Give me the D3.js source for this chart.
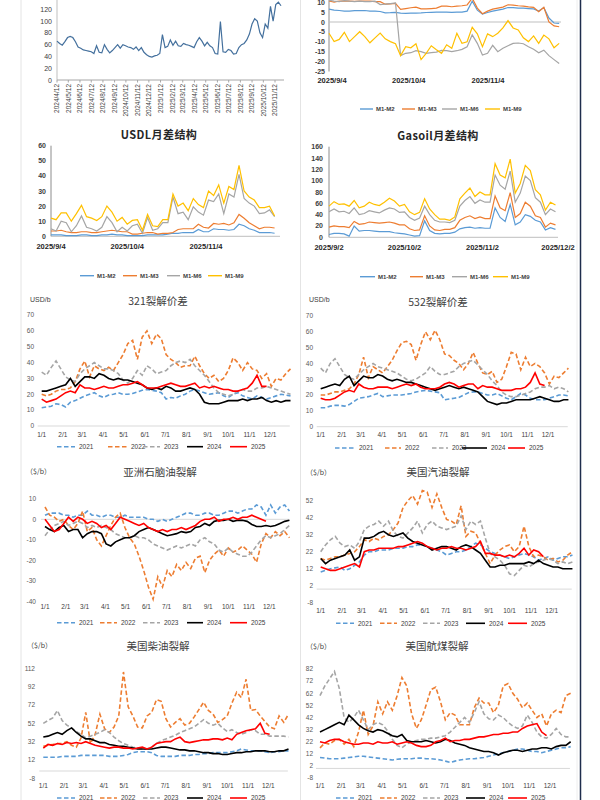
<!DOCTYPE html>
<meta charset="utf-8">
<html>
<head>
<style>
  body { margin: 0; background: #fff; }
  svg text { font-family: "Liberation Sans", Arial, sans-serif; }
</style>
</head>
<body>
<div id="chartContainer"></div>
<script src="https://d3js.org/d3.v7.min.js"></script>
<script>
// ---- tick labels / categories ----
var topLeftLabels = ["2024/4/12","2024/5/12","2024/6/12","2024/7/12","2024/8/12","2024/9/12","2024/10/12","2024/11/12","2024/12/12","2025/1/12",
  "2025/2/12","2025/3/12","2025/4/12","2025/5/12","2025/6/12","2025/7/12","2025/8/12","2025/9/12","2025/10/12","2025/11/12"];
var monthLabels = ["1/1","2/1","3/1","4/1","5/1","6/1","7/1","8/1","9/1","10/1","11/1","12/1"];
var monthDays = [0,31,59,90,120,151,181,212,243,273,304,334];
var yearNames = ["2021","2022","2023","2024","2025"];
var spreadNames = ["M1-M2","M1-M3","M1-M6","M1-M9"];

// ---- top-left panel (weekly from 2024/4/12) ----
var topLeftVals = [66,62,59,65,72,74,72,65,56,54, 51,50,49,48,45,58,47,46,60,52,
  46,50,55,60,54,60,58,56,55,52, 56,50,55,47,43,40,39,41,42,45,
  77,55,57,68,59,66,58,57,62,60, 59,57,55,65,72,66,58,64,58,55,
  45,44,99,48,47,52,50,44,45,55, 60,62,68,78,95,104,100,80,72,95,
  88,125,100,128,132,126];

// ---- top-right spreads (every 2 days from 2025/9/4) ----
var topM1M2 = [6.5,6,5.8,5.5,5.5,5.7,5.7,5.8,5.5,5.5, 5.3,4.6,4.7,4.9,4.5,4.4,4.5,4.5,4.6,4.8,
  4.9,5,5,5,4.9,5,5,5.5,10.5,6, 4,4.8,5.5,6,6.5,7.3,7.3,7,7,6.8, 6.6,5.5,7.3,2,-0.5,-0.7];
var topM1M3 = [10.6,10,10.6,10.5,10.6,10.4,10.6,10.5,10.5,10.3, 10.3,9,9.2,9.4,6.4,6.8,7.2,7.5,6.6,6.6,
  6.8,7,8,8,7.7,8,8.2,8.6,12,7, 4.2,5.5,6.5,7,7.5,8.7,8.5,8.2,8,7.6, 7.4,5.2,7.4,0,-2,-2.4];
var topM1M6 = [11,10.5,10.3,10.8,10.5,10.3,10.5,10.3,10.3,10.5, 8.8,9,9.3,9.6,-17,-15.8,-15.5,-14.5,-15,-15.8,
  -15.5,-15.2,-14.3,-14.5,-15,-14.5,-13.8,-12.5,-6.5,-10.8, -16.7,-15.8,-11.8,-15,-13.3,-12,-10.8,-10.6,-11,-12.5,
  -13.8,-15.5,-14.2,-17,-19,-21];
var topM1M9 = [-5.7,-9.9,-8.8,-5.2,-9.9,-7.4,-4.9,-7.4,-10.5,-8, -5.6,-8.5,-9.9,-11,-17,-12.5,-13,-11,-19,-15.8,
  -12,-14,-15.8,-11.5,-13.3,-5.7,-10.8,-10,-2.7,-6, -12.5,-6,-7.4,-5.7,-3,0.7,-3,-4,-8,-9.9,
  -7,-10.8,-6.6,-8.5,-13,-10.8];

// ---- USDL (every 2 days from 2025/9/4) ----
var usdlM1M2 = [1,1,1,0.5,0.5,0.5,1,1,0.5,0.5, 1,1,1.5,1,1,0.5,0.5,0.5,0.5,1,
  1,1,1,1.5,2,2,2.5,2.5,2.5,4.5, 3,3,5,4.5,4.5,4,4.5,8,7,5, 4,2.5,2.5,2.5,2];
var usdlM1M3 = [3.5,3.5,4,3,2.5,2.5,3,3,2.5,2.5, 3,3.5,4,3.5,3,3,1.5,1.5,2,2.5,
  2.5,1.5,2,2,2.5,4.5,5,5,5,8, 6,5.5,8.5,8,8.5,7.5,9,14.5,12,9, 7,5,6,6,5.5];
var usdlM1M6 = [5,3.5,10,9,3,7,13.5,6,5,3.5, 6,13,9,3,6,3.5,7,8,2,12.5,
  4,5,9,9,26,15,16,11,19.5,16, 14,24,23,28,15,28,26,41,25,22, 20,15,15.5,17.5,13];
var usdlM1M9 = [12,11,15.5,15.5,10,15,20.5,13,12,10.5, 13,20,16,10,12.5,8,10.5,11,4,14.5,
  7,6.5,11,11,28,20,22,17,25,21, 19,30,27,34,22,33,31,47,30,26, 24,19,19,20,13.5];

// ---- Gasoil (every 2 days from 2025/9/2) ----
var gasoM1M2 = [5,7,7,6,2,20,11,12,12,11, 10,10,10,8,7,6,4,2,3,29,
  12,7,6,7,7,9,15,17,18,16, 17,16,16,52,35,28,58,22,27,40, 37,30,27,13,17,14];
var gasoM1M3 = [18,20,19,19,17,28,23,24,27,26, 25,26,27,25,22,22,15,12,13,38,
  20,13,12,14,14,17,30,35,38,33, 36,33,33,73,52,47,79,35,42,62, 55,38,35,18,25,22];
var gasoM1M6 = [45,50,45,46,42,52,40,42,47,45, 43,48,52,50,44,45,35,30,34,55,
  40,30,27,27,26,30,55,65,72,60, 66,62,62,110,92,85,117,62,78,108, 100,70,62,40,50,45];
var gasoM1M9 = [55,63,58,59,55,65,52,55,62,58, 56,62,69,64,55,58,45,40,44,68,
  50,40,32,32,30,36,68,78,87,72, 80,75,75,130,110,105,138,78,95,127, 118,84,75,48,62,57];

// ---- yearly cracks, weekly from 1/1 ----
var c321_2021 = [11.5,12,12.5,14,13.5,12,15,16,17.5,19, 20,21,19,18,19.5,20,21,20,20,20.5,
  21.5,22.5,23,22.5,22,21,17,18,17.5,19, 20,22,23,22,21,20,20.5,21,19,18, 20,21,19,18,17,19,18,17,18,19, 20,19.5,19];
var c321_2022 = [20,19,20,22,23,23,24,28,36,41, 31,38,36,35,37,35,40,45,52,54,
  42,56,60,52,58,55,45,42,40,37, 38,38,44,38,33,30,32,28,30,35, 43,40,35,40,36,35,30,33,25,30, 29,33,36];
var c321_2023 = [34,32,37,41,36,31,29,28,33,36, 38,40,38,36,36,35,33,29,27,30,
  35,32,38,36,33,34,35,38,40,41, 40,42,38,35,32,28,24,21,20,19, 20,22,23,22,22,24,24,25,24,23, 22,21,20];
var c321_2024 = [22,22,23,24,25,26,30,25,28,31, 31,30,33,32,30,29,30,29,29,28,
  27,26,24,23,24,23,25,24,22,22, 23,24,23,20,15,14,14,14,15,16, 16,16,17,16,17,17,18,16,15,16, 15,16,16];
var c321_2025 = [17,15,16,17,19,21,22,21,26,24, 24,23,24,25,24,24,25,26,26,27,
  28,26,24,24,24,25,26,27,26,25, 25,26,27,24,25,24,25,24,23,23, 22,22,23,24,27,32,25,25];

var c532_2021 = [12,12,13,13.5,13.5,13,14,16,18,18.5, 19,20,21,19,19.5,20,20,20,20.5,21,
  22,22.5,23,22.5,22,21.5,17,17.5,18,18.5, 20,21.5,22,22,21,20,20,21,19.5,18, 17,19,21,20,18,17,17,17,18,19, 20,20,19.5];
var c532_2022 = [20,20,21,22,22,23,24,27,33,44, 31,38,36,34,38,42,48,53,54,52,
  42,52,60,55,61,55,46,45,42,40, 36,40,47,40,34,33,35,28,30,38, 47,46,36,44,38,40,38,34,27,32, 31,34,37];
var c532_2023 = [37,34,40,43,38,33,31,30,33,36, 38,40,38,37,36,35,34,32,30,29,
  30,32,34,38,35,33,33,34,35,38, 40,41,42,39,36,33,29,26,22,20, 19,19,20,21,22,24,25,25,26,24, 25,24,22];
var c532_2024 = [24,25,26,27,26,30,32,26,29,32, 31,31,33,32,30,29,30,29,28,28,
  27,26,25,24,23,24,25,26,25,24, 25,24,23,22,19,16,15,14,15,15, 16,17,17,17,17,18,19,18,17,16, 16,17,17];
var c532_2025 = [18,17,17,18,20,22,23,22,27,25, 24,24,25,25,25,24,25,26,27,26,
  27,25,24,24,24,25,27,28,27,25, 26,27,27,24,26,25,25,24,23,23, 23,24,24,25,28,34,27,26];

var nap_2021 = [2,3,3,3,2,2,1,2,2,4, 2,2,1,2,2,1,1,2,1,1,
  1,1,0,0,-1,0,-1,0,1,2, 3,3,2,2,3,3,2,2,3,4, 4,3,4,5,5,7,6,2,7,3, 6,7,4];
var nap_2022 = [6,2,1,-1,0,-3,-5,-2,4,-6, -4,-10,-13,-8,-3,1,3,-4,-9,-12,
  -18,-25,-33,-39,-28,-33,-25,-28,-22,-25, -21,-24,-19,-18,-26,-20,-17,-15,-18,-14,
  -16,-15,-13,-15,-17,-21,-12,-7,-9,-6, -8,-6,-9];
var nap_2023 = [-8,-5,-3,-2,-1,-3,-2,-1,-2,-4, -3,-4,-3,-4,-5,-7,-8,-9,-9,-8,
  -9,-9,-10,-12,-13,-14,-15,-14,-13,-14, -13,-12,-13,-10,-9,-11,-12,-15,-16,-14,
  -16,-17,-18,-18,-16,-13,-10,-8,-9,-8, -7,-5,-3];
var nap_2024 = [-3.5,-5,-6,-4,-3,-6,-5,-5,-9,-7, -6,-6,-7,-12,-13,-11,-10,-9,-9,-8,
  -6,-5,-4,-5,-6,-7,-8,-7.5,-7,-6, -6.5,-6,-4,-3.5,-2,-3,-1,-0.5,-0.5,0,
  -1,-0.5,-0.5,-1,-2.5,-3.5,-3.5,-3,-3.5,-3, -2,-1,-0.5];
var nap_2025 = [0,-3,-6,-5,-2,1,-1,1,0,-2, -1,-2,-4,-3,-5,-2,1,0,-1,-2,
  -3,-2,-4,-5,-6,-5,-6,-5,-5,-4, -5,-4,-3,-1,0,0,1,-1,0,0, 1,0,1,1,2,1,0,-1];

var gsl_2021 = [10,11,12,12.5,13,11,12,14,16,20, 22,22,23,23,23,24,24,24,25,25,
  26,26,25,24,23,22,20,21,22,22, 23,25,27,26,24,22,21,20,19,18, 19,20,21,20,19,17,18,19,17,18, 19,19,20];
var gsl_2022 = [18,17,18,19,19,20,21,22,25,29, 28,30,29,31,32,35,39,48,52,55,
  50,58,57,48,56,48,41,40,38,49, 31,34,33,27,21,15,20,23,25,26, 22,25,37,25,19,20,19,17,18,16, 17,20,22];
var gsl_2023 = [22,26,29,31,27,25,26,24,28,35, 37,38,40,37,40,34,31,30,33,36,
  40,33,38,40,37,36,35,36,37,43, 35,40,38,40,30,21,19,17,14,9, 8,11,14,13,15,16,17,18,17,15, 16,15,16];
var gsl_2024 = [18,15,17,18,19,20,23,17,19,30, 30,31,33,34,32,31,32,33,30,28,
  27,26,25,23,24,25,25,24,23,25, 26,25,23,21,17,13,13,14,14,15, 15,15,15,16,15,17,15,14,13,13, 12,12,12];
var gsl_2025 = [13,12,11,11,12,13,14,15,13,22, 23,23,24,24,24,24,25,25,26,27,
  28,27,25,24,23,24,24,25,24,24, 23,24,25,28,21,21,20,20,19,20, 19,21,24,20,23,22,19];

var dsl_2021 = [15,15,15,15,16,16,16,16,17,17, 17,17,17,17,16,16,16,17,18,20,
  21,21,21,20,17,16,16,16,16,17, 17,17,18,18,19,19,20,20,20,20, 21,22,24,23,22,22,22,21,20,21, 21,22,22];
var dsl_2022 = [27,28,29,30,30,32,28,26,36,64, 30,40,62,46,42,48,60,108,70,60,
  48,47,60,64,78,76,57,48,53,57, 50,52,59,67,75,66,62,53,56,60, 74,86,80,100,66,67,60,54,48,46, 60,53,62];
var dsl_2023 = [52,55,58,66,55,50,47,43,40,36, 38,40,42,45,42,37,33,30,28,26,
  25,24,24,26,30,33,35,37,39,42, 44,46,48,52,56,52,50,52,47,43, 45,42,40,42,45,44,40,40,38,38, 38,38,37];
var dsl_2024 = [37,38,40,42,40,44,47,42,38,35, 35,33,31,31,29,28,27,27,26,25,
  24,24,24,24,25,26,26,25,24,23, 23,22,22,21,20,20,19,19,18,18, 19,20,20,21,21,22,22,22,21,21, 22,22,24];
var dsl_2025 = [25,29,28,30,29,31,30,31,30,32, 30,28,27,26,25,26,26,25,25,24,
  25,26,24,26,30,31,32,32,35,37, 32,31,32,33,34,34,35,35,34,36, 34,40,42,44,45,46,52,41,40];

var jet_2021 = [9,8.5,8,8,8,8.5,9,9.5,10,10, 9.5,9,8.5,8,7.5,7,7.5,8,8,8,
  8.5,8.5,8,8,7.5,7,6,5,6,7, 7.5,8,8,8.5,9,10,11,12,13,14, 15,16,16,15,14,14,13,14,15,16, 17,17,18];
var jet_2022 = [17,21,20,23,24,20,24,18,30,48, 28,35,55,45,55,48,60,75,68,45,
  33,40,52,65,67,55,40,46,44,36, 36,36,50,58,54,54,46,52,68,70, 62,57,50,54,48,42,45,35,45,48, 46,60,62];
var jet_2023 = [60,68,74,80,66,42,38,42,48,40, 32,36,38,36,31,24,19,17,20,22,
  23,24,24,25,25,26,27,30,34,38, 42,38,46,55,45,41,40,44,42,38, 35,33,35,44,38,30,26,25,28,33, 28,26,26];
var jet_2024 = [30,32,34,36,38,36,44,40,36,33, 31,30,32,31,29,27,26,28,23,22,
  22,22,23,22,21,22,24,23,21,20, 19,17,16,15,14,14,13,11,13,14, 15,15,14,15,16,16,17,17,16,18, 19,19,22];
var jet_2025 = [22,21,23,24,24,22,21,20,20,21, 21,20,22,21,21,22,20,21,22,21,
  19,18,18,19,22,23,25,22,23,23, 24,24,25,26,26,27,28,28,29,29, 30,30,33,35,36,37,30,27];

// ---- styles ----
var yearColors = ["#5B9BD5","#ED7D31","#A5A5A5","#000000","#FF0000"];
var yearDash = ["4.5,2.5","4.5,2.5","4.5,2.5",null,null];
var spreadColors = ["#5B9BD5","#ED7D31","#A5A5A5","#FFC000"];
var cjk = "'Noto Sans CJK SC', sans-serif";

var svg = d3.select("#chartContainer").append("svg").attr("width", 600).attr("height", 800);
svg.append("rect").attr("width", 600).attr("height", 800).attr("fill", "#fff");

// page frame lines
[[21, "#e4e4e4", 1], [300.5, "#e4e4e4", 1], [577, "#eeeeee", 1], [580.5, "#1f2d4d", 1.5]].forEach(function (f) {
  svg.append("line").attr("x1", f[0]).attr("x2", f[0]).attr("y1", 0).attr("y2", 800)
    .attr("stroke", f[1]).attr("stroke-width", f[2]);
});

// ---- top-left panel (top cropped, as in the source) ----
(function () {
  var g = svg.append("g");
  var start = new Date(2024, 3, 12);
  var x = d3.scaleTime().domain([start, new Date(2025, 10, 12)]).range([57, 275]);
  var y = d3.scaleLinear().domain([0, 140]).range([80, -2.5]);
  g.append("line").attr("x1", 57).attr("x2", 57).attr("y1", y(140)).attr("y2", y(0)).attr("stroke", "#bfbfbf");
  g.append("line").attr("x1", 57).attr("x2", 284).attr("y1", y(0)).attr("y2", y(0)).attr("stroke", "#a6a6a6");
  g.selectAll(null).data(d3.range(0, 121, 20)).join("text")
    .attr("x", 52).attr("y", function (d) { return y(d) + 2.5; })
    .attr("text-anchor", "end").style("font-size", "7px").attr("fill", "#404040").text(function (d) { return d; });
  topLeftLabels.forEach(function (t, i) {
    var px = x(d3.timeMonth.offset(start, i));
    g.append("line").attr("x1", px).attr("x2", px).attr("y1", 80).attr("y2", 82.5).attr("stroke", "#a6a6a6");
    g.append("text").attr("transform", "translate(" + (px + 2.3) + ",84) rotate(-90)")
      .attr("text-anchor", "end").style("font-size", "6.5px").attr("fill", "#404040").text(t);
  });
  var line = d3.line().x(function (d, i) { return x(d3.timeDay.offset(start, 7 * i)); }).y(function (d) { return y(d); });
  g.append("path").attr("d", line(topLeftVals)).attr("fill", "none").attr("stroke", "#44709D").attr("stroke-width", 1.2);
})();

// ---- spread panels ----
function spreadPanel(o) {
  var g = svg.append("g");
  var x = d3.scaleLinear().domain([0, o.dRef]).range([o.x0, o.xRef]);
  var y = d3.scaleLinear().domain([o.vA, o.vB]).range([o.pA, o.pB]);
  if (o.title) {
    g.append("text").attr("x", o.tx).attr("y", o.ty).attr("text-anchor", "middle")
      .style("font-family", cjk).style("font-size", "11px").style("font-weight", "bold")
      .style("letter-spacing", "0.4px").attr("fill", "#262626").text(o.title);
  }
  var top = o.axisTop !== undefined ? o.axisTop : o.ticks[o.ticks.length - 1];
  g.append("line").attr("x1", o.x0).attr("x2", o.x0).attr("y1", y(top)).attr("y2", y(o.ticks[0]))
    .attr("stroke", "#8c8c8c");
  g.append("line").attr("x1", o.x0).attr("x2", o.xEnd).attr("y1", y(0)).attr("y2", y(0)).attr("stroke", "#bfbfbf");
  g.selectAll(null).data(o.ticks).join("text")
    .attr("x", o.lx).attr("y", function (d) { return y(d) + 2.5; }).attr("text-anchor", "end")
    .style("font-size", "7px").style("font-weight", "bold").attr("fill", "#404040").text(function (d) { return d; });
  o.xLabels.forEach(function (t, i) {
    g.append("text").attr("x", x(o.xDays[i]) + (o.dx || 0)).attr("y", o.xy).attr("text-anchor", "middle")
      .style("font-size", "7.5px").style("font-weight", "bold").attr("fill", "#262626").text(t);
  });
  var line = d3.line().x(function (d, i) { return x(i * o.step); }).y(function (d) { return y(d); });
  o.series.forEach(function (s, k) {
    g.append("path").attr("d", line(s)).attr("fill", "none").attr("stroke", spreadColors[k]).attr("stroke-width", 1.2);
  });
  o.leg.forEach(function (l, k) {
    g.append("line").attr("x1", l[0]).attr("x2", l[1]).attr("y1", o.ly).attr("y2", o.ly)
      .attr("stroke", spreadColors[k]).attr("stroke-width", 1.4);
    g.append("text").attr("x", l[1] + 3).attr("y", o.ly + 2.2).style("font-size", "6px").style("font-weight", "bold")
      .attr("fill", "#404040").text(spreadNames[k]);
  });
}

spreadPanel({
  x0: 329, dRef: 61, xRef: 485, xEnd: 561, vA: 0, vB: -25, pA: 22, pB: 71.5,
  ticks: d3.range(-25, 11, 5), axisTop: 15, lx: 325, xy: 83, dx: 3,
  xLabels: ["2025/9/4", "2025/10/4", "2025/11/4"], xDays: [0, 30, 61], step: 2,
  series: [topM1M2, topM1M3, topM1M6, topM1M9], ly: 109,
  leg: [[360, 373], [402, 415], [442, 457], [485, 500]]
});
spreadPanel({
  title: "USDL月差结构", tx: 159, ty: 138.5,
  x0: 51, dRef: 61, xRef: 206, xEnd: 280, vA: 0, vB: 60, pA: 236.3, pB: 145.7,
  ticks: d3.range(0, 61, 10), lx: 46, xy: 248.5,
  xLabels: ["2025/9/4", "2025/10/4", "2025/11/4"], xDays: [0, 30, 61], step: 2,
  series: [usdlM1M2, usdlM1M3, usdlM1M6, usdlM1M9], ly: 275.7,
  leg: [[80, 94], [123, 137], [167, 180], [208, 222]]
});
spreadPanel({
  title: "Gasoil月差结构", tx: 438, ty: 139.5,
  x0: 329, dRef: 91, xRef: 558, xEnd: 558, vA: 0, vB: 160, pA: 237.3, pB: 146.7,
  ticks: d3.range(0, 161, 20), lx: 323, xy: 249.5,
  xLabels: ["2025/9/2", "2025/10/2", "2025/11/2", "2025/12/2"], xDays: [0, 30, 61, 91], step: 2,
  series: [gasoM1M2, gasoM1M3, gasoM1M6, gasoM1M9], ly: 276.7,
  leg: [[360, 375], [410, 423], [452, 467], [493, 508]]
});

// ---- yearly crack panels ----
function yearPanel(o) {
  var g = svg.append("g");
  var x = d3.scaleLinear().domain([0, 334]).range([o.x1, o.x12]);
  var y = d3.scaleLinear().domain([o.vA, o.vB]).range([o.pA, o.pB]);
  g.append("text").attr("x", o.tx).attr("y", o.ty).attr("text-anchor", "middle")
    .style("font-family", cjk).style("font-size", "10.5px").attr("fill", "#404040").text(o.title);
  g.append("text").attr("x", o.ux).attr("y", o.uy).style("font-family", o.unitCjk ? cjk : null)
    .style("font-size", "7px").attr("fill", "#404040").text(o.unit);
  g.append("line").attr("x1", o.x1 - 4).attr("x2", x(363)).attr("y1", y(0)).attr("y2", y(0)).attr("stroke", "#d9d9d9");
  g.selectAll(null).data(o.ticks).join("text")
    .attr("x", o.lx).attr("y", function (d) { return y(d) + 2.3; }).attr("text-anchor", "end")
    .style("font-size", "6.5px").attr("fill", "#595959").text(function (d) { return d; });
  g.selectAll(null).data(monthDays).join("text")
    .attr("x", function (d) { return x(d); }).attr("y", o.xy).attr("text-anchor", "middle")
    .style("font-size", "6.5px").attr("fill", "#404040").text(function (d, i) { return monthLabels[i]; });
  var line = d3.line().x(function (d, i) { return x(i * 7); }).y(function (d) { return y(d); });
  o.series.forEach(function (s, k) {
    g.append("path").attr("d", line(s)).attr("fill", "none").attr("stroke", yearColors[k])
      .attr("stroke-width", 1.6).attr("stroke-dasharray", yearDash[k]);
  });
  o.leg.forEach(function (l, k) {
    g.append("line").attr("x1", l[0]).attr("x2", l[1]).attr("y1", o.ly).attr("y2", o.ly)
      .attr("stroke", yearColors[k]).attr("stroke-width", 1.6).attr("stroke-dasharray", yearDash[k]);
    g.append("text").attr("x", l[1] + 4).attr("y", o.ly + 2.2).style("font-size", "6.5px")
      .attr("fill", "#404040").text(yearNames[k]);
  });
}

var legLeft = [[57, 75], [100, 117], [143, 160], [187, 203], [230, 247]];
var legRight = [[336, 354], [380, 397], [423, 440], [466, 485], [508, 527]];

yearPanel({
  title: "321裂解价差", tx: 158, ty: 305, unit: "USD/b", ux: 30, uy: 301.5,
  x1: 41.7, x12: 270, vA: 0, vB: 70, pA: 426, pB: 315, ticks: d3.range(0, 71, 10), lx: 34, xy: 436.5,
  series: [c321_2021, c321_2022, c321_2023, c321_2024, c321_2025], ly: 446.7,
  leg: [[57, 75], [108, 127], [143, 160], [187, 203], [230, 247]]
});
yearPanel({
  title: "532裂解价差", tx: 438, ty: 306, unit: "USD/b", ux: 309, uy: 301.5,
  x1: 320.7, x12: 548, vA: 0, vB: 70, pA: 426.7, pB: 316, ticks: d3.range(0, 71, 10), lx: 313, xy: 436.5,
  series: [c532_2021, c532_2022, c532_2023, c532_2024, c532_2025], ly: 448,
  leg: [[335, 355], [385, 401], [432, 448], [462, 487], [508, 525]]
});
yearPanel({
  title: "亚洲石脑油裂解", tx: 160, ty: 476, unit: "（$/b）", unitCjk: true, ux: 26, uy: 474,
  x1: 45, x12: 269.3, vA: 0, vB: -40, pA: 519.3, pB: 601.3, ticks: d3.range(-40, 11, 10), lx: 36, xy: 609,
  series: [nap_2021, nap_2022, nap_2023, nap_2024, nap_2025], ly: 622.7, leg: legLeft
});
yearPanel({
  title: "美国汽油裂解", tx: 438, ty: 476, unit: "（$/b）", unitCjk: true, ux: 306, uy: 474.5,
  x1: 320.7, x12: 551.7, vA: 2, vB: 52, pA: 585.7, pB: 500.7, ticks: d3.range(-8, 53, 10), lx: 313, xy: 613,
  series: [gsl_2021, gsl_2022, gsl_2023, gsl_2024, gsl_2025], ly: 623.3, leg: legRight
});
yearPanel({
  title: "美国柴油裂解", tx: 158, ty: 649.5, unit: "（$/b）", unitCjk: true, ux: 27, uy: 648,
  x1: 43.3, x12: 268.3, vA: 12, vB: 112, pA: 760, pB: 668.3, ticks: d3.range(-8, 113, 20), lx: 35, xy: 788,
  series: [dsl_2021, dsl_2022, dsl_2023, dsl_2024, dsl_2025], ly: 798, leg: legLeft
});
yearPanel({
  title: "美国航煤裂解", tx: 437, ty: 650, unit: "（$/b）", unitCjk: true, ux: 306, uy: 648.5,
  x1: 320, x12: 550, vA: 2, vB: 82, pA: 766, pB: 669, ticks: d3.range(-8, 83, 10), lx: 313, xy: 788,
  series: [jet_2021, jet_2022, jet_2023, jet_2024, jet_2025], ly: 798, leg: legRight
});
</script>
</body>
</html>
